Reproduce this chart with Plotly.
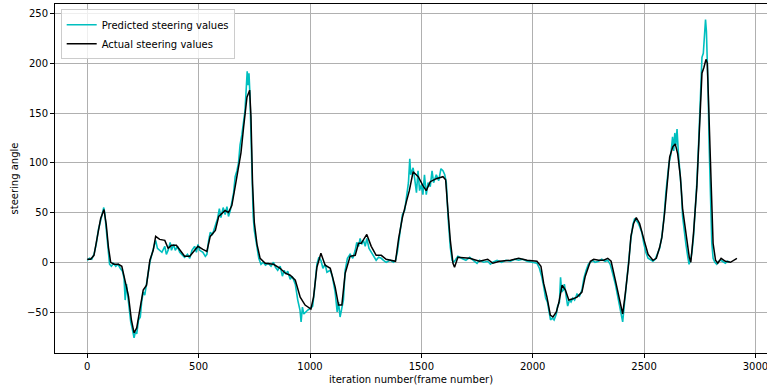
import plotly.graph_objects as go

# Actual steering values (black)
actual_frames = [0, 15, 30, 45, 60, 75, 85, 95, 105, 120, 140, 155, 170, 185, 198, 210, 222, 236, 251, 266,
                 281, 296, 307, 325, 348, 363, 378, 400, 415, 437, 460, 482, 497, 519, 537, 552, 575, 590, 604, 619,
                 634, 649, 664, 679, 690, 702, 717, 729, 735, 742, 750, 762, 776, 799, 836, 866, 889, 911, 934, 956,
                 978, 1004, 1016, 1031, 1049, 1068, 1091, 1113, 1128, 1143, 1158, 1180, 1203, 1218, 1230, 1255, 1275, 1297, 1320, 1342,
                 1384, 1398, 1415, 1434, 1446, 1463, 1486, 1507, 1522, 1540, 1567, 1597, 1609, 1619, 1630, 1642, 1649, 1664, 1717, 1761,
                 1798, 1821, 1851, 1900, 1937, 1975, 2019, 2037, 2049, 2064, 2079, 2091, 2106, 2117, 2132, 2147, 2162, 2177, 2199, 2221,
                 2236, 2259, 2274, 2296, 2319, 2337, 2352, 2371, 2393, 2404, 2416, 2431, 2441, 2453, 2465, 2480, 2498, 2518, 2540, 2555,
                 2570, 2580, 2592, 2604, 2615, 2629, 2640, 2651, 2663, 2673, 2688, 2703, 2710, 2722, 2737, 2751, 2760, 2769, 2778, 2784,
                 2791, 2802, 2810, 2821, 2831, 2846, 2865, 2888, 2905, 2917]
actual_values = [3, 3, 7, 25, 44, 53, 38, 15, 0, -2, -2, -4, -18, -34, -58, -71, -66, -48, -28, -23,
                 2, 12, 26, 23, 22, 14, 17, 17, 12, 6, 6, 12, 16, 13, 11, 26, 32, 46, 49, 52,
                 50, 57, 76, 96, 110, 136, 166, 173, 146, 79, 40, 18, 4, -1, -2, -6, -11, -13, -18, -35,
                 -43, -47, -35, -5, 9, -3, -6, -25, -43, -43, -11, 6, 7, 19, 19, 28, 16, 7, 7, 3,
                 1, 24, 45, 62, 72, 91, 86, 77, 72, 81, 84, 86, 83, 53, 22, -1, -5, 5, 4, 1,
                 3, -1, 1, 2, 4, 2, 1, -4, -21, -35, -53, -55, -50, -41, -23, -28, -38, -37, -35, -30,
                 -14, 1, 3, 2, 2, 4, 1, -18, -41, -52, -31, -1, 26, 39, 45, 39, 24, 8, 2, 4,
                 15, 25, 49, 82, 106, 116, 119, 109, 86, 54, 29, 5, 0, 29, 76, 143, 190, 196, 204, 200,
                 153, 79, 19, 2, -1, 4, 1, 0, 2, 4]

# Predicted steering values (cyan)
pred_frames = [0, 10, 20, 30, 40, 50, 60, 68, 74, 78, 85, 92, 100, 108, 118, 128, 138, 148, 158, 165,
               170, 176, 185, 195, 203, 210, 216, 222, 230, 238, 244, 251, 258, 266, 274, 281, 290, 300, 307, 315,
               325, 335, 348, 355, 363, 372, 378, 388, 395, 405, 415, 425, 437, 450, 460, 470, 482, 490, 497, 505,
               519, 530, 537, 545, 552, 562, 575, 585, 593, 600, 610, 619, 627, 634, 642, 649, 657, 664, 672, 679,
               686, 694, 702, 708, 714, 718, 722, 726, 730, 735, 740, 745, 750, 756, 762, 770, 780, 790, 800, 812,
               825, 836, 845, 855, 866, 876, 884, 892, 900, 911, 920, 934, 945, 955, 960, 966, 972, 980, 990, 1004,
               1012, 1020, 1031, 1040, 1049, 1058, 1068, 1076, 1091, 1100, 1113, 1122, 1128, 1135, 1143, 1150, 1158, 1168, 1180, 1192,
               1203, 1210, 1218, 1225, 1232, 1240, 1248, 1255, 1265, 1275, 1285, 1297, 1308, 1320, 1330, 1342, 1360, 1375, 1384, 1392,
               1398, 1406, 1415, 1425, 1434, 1442, 1448, 1452, 1458, 1463, 1470, 1478, 1485, 1492, 1500, 1507, 1514, 1522, 1530, 1540,
               1548, 1555, 1567, 1578, 1588, 1597, 1605, 1612, 1620, 1630, 1638, 1645, 1652, 1664, 1680, 1700, 1717, 1735, 1750, 1761,
               1780, 1798, 1810, 1821, 1840, 1860, 1880, 1900, 1920, 1937, 1955, 1975, 2000, 2019, 2030, 2040, 2049, 2058, 2066, 2074,
               2080, 2088, 2096, 2106, 2112, 2120, 2125, 2130, 2137, 2142, 2150, 2157, 2165, 2172, 2180, 2188, 2199, 2210, 2221, 2230,
               2240, 2250, 2259, 2270, 2280, 2296, 2310, 2325, 2337, 2348, 2360, 2371, 2385, 2395, 2404, 2410, 2418, 2426, 2433, 2441,
               2450, 2458, 2465, 2472, 2480, 2490, 2498, 2508, 2518, 2530, 2540, 2550, 2560, 2570, 2580, 2590, 2598, 2605, 2612, 2620,
               2628, 2633, 2638, 2643, 2648, 2654, 2660, 2667, 2673, 2680, 2688, 2696, 2702, 2708, 2715, 2722, 2730, 2737, 2745, 2751,
               2756, 2760, 2766, 2772, 2776, 2780, 2784, 2788, 2792, 2798, 2804, 2810, 2818, 2826, 2835, 2845, 2855, 2865, 2875, 2885]
pred_values = [2, 4, 3, 8, 18, 33, 42, 50, 55, 50, 35, 14, -2, -4, -1, -4, -2, -6, -9, -16,
               -38, -22, -38, -60, -68, -76, -70, -72, -58, -55, -40, -30, -33, -20, -10, 0, 8, 18, 22, 14,
               12, 10, 16, 8, 12, 20, 12, 18, 12, 16, 10, 8, 5, 8, 4, 12, 16, 10, 18, 12,
               10, 6, 8, 22, 30, 28, 36, 44, 54, 45, 55, 48, 56, 46, 52, 62, 70, 86, 92, 100,
               118, 128, 144, 152, 176, 192, 178, 190, 170, 130, 70, 46, 32, 22, 14, 4, -2, 0, -3, -1,
               -4, 0, -5, -8, -4, -14, -8, -12, -9, -17, -14, -22, -38, -48, -60, -45, -52, -50, -48, -46,
               -44, -28, -2, 5, 2, -6, -2, -10, -8, -14, -30, -50, -40, -55, -45, -38, -8, 4, 8, 4,
               12, 20, 16, 24, 18, 22, 16, 24, 14, 10, 6, 2, 5, 4, 2, 0, 2, 0, 2, 10,
               20, 35, 48, 52, 68, 80, 104, 88, 92, 95, 84, 70, 92, 72, 78, 68, 88, 68, 80, 76,
               92, 80, 88, 82, 94, 92, 88, 80, 45, 15, 2, 0, 2, 6, 4, 2, 5, 2, -1, 2,
               0, 1, -2, 0, 2, 0, 2, 1, 3, 2, 3, 1, 0, -1, -6, -14, -24, -36, -40, -52,
               -58, -56, -58, -52, -44, -40, -15, -30, -28, -22, -36, -44, -38, -40, -36, -38, -32, -34, -28, -16,
               -8, -2, 0, 2, 0, 1, 3, 1, 2, -2, -12, -22, -38, -48, -60, -46, -28, -6, 10, 24,
               38, 44, 42, 40, 36, 30, 20, 10, 4, 2, 1, 3, 8, 14, 26, 46, 70, 88, 100, 108,
               126, 112, 130, 118, 134, 110, 94, 74, 46, 30, 18, 6, -2, 2, 10, 26, 50, 80, 120, 160,
               200, 206, 210, 238, 244, 232, 210, 170, 120, 60, 20, 4, 0, -2, 1, 2, 0, -1, 1, 0]

fig = go.Figure()
fig.add_trace(go.Scatter(x=pred_frames, y=pred_values, mode="lines",
                         name="Predicted steering values",
                         line=dict(color="#00bfbf", width=1.6)))
fig.add_trace(go.Scatter(x=actual_frames, y=actual_values, mode="lines",
                         name="Actual steering values",
                         line=dict(color="black", width=1.5)))

axis_font = dict(family="DejaVu Sans", size=10, color="black")

fig.update_layout(
    width=767, height=389,
    margin=dict(l=55, r=0, t=4, b=36),
    paper_bgcolor="white", plot_bgcolor="white",
    font=axis_font,
    showlegend=True,
    legend=dict(x=0.008, y=0.985, xanchor="left", yanchor="top",
                bgcolor="rgba(255,255,255,0.8)", bordercolor="#cccccc", borderwidth=1,
                font=dict(family="DejaVu Sans", size=10, color="black"),
                tracegroupgap=0, itemwidth=30),
    xaxis=dict(range=[-145, 3052], tickvals=[0, 500, 1000, 1500, 2000, 2500, 3000],
               showgrid=True, gridcolor="#b0b0b0", gridwidth=0.8,
               showline=True, linecolor="black", linewidth=1, mirror=True,
               ticks="outside", ticklen=4, tickcolor="black", tickwidth=1,
               zeroline=False, tickfont=axis_font, ticklabeloverflow="allow",
               title=dict(text="iteration number(frame number)", font=axis_font, standoff=4)),
    yaxis=dict(range=[-91.2, 259.6], tickvals=[-50, 0, 50, 100, 150, 200, 250],
               showgrid=True, gridcolor="#b0b0b0", gridwidth=0.8,
               showline=True, linecolor="black", linewidth=1, mirror=False,
               ticks="outside", ticklen=4, tickcolor="black", tickwidth=1,
               zeroline=False, tickfont=axis_font,
               title=dict(text="steering angle", font=axis_font, standoff=6)),
)

fig.write_html("out.html")
